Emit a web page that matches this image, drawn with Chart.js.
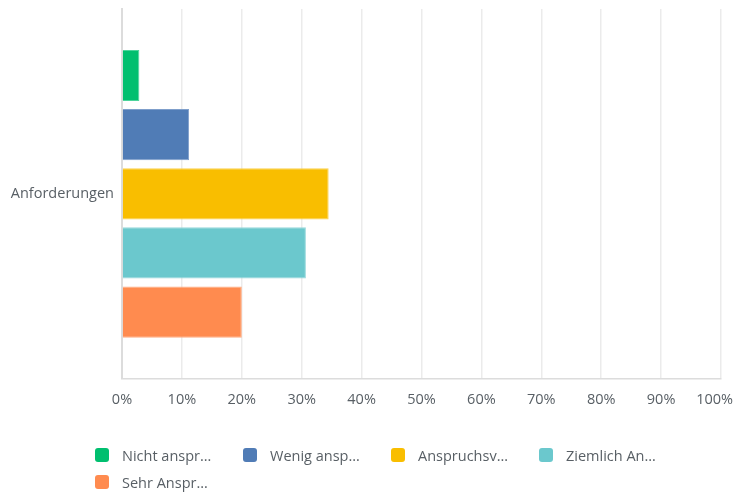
<!DOCTYPE html>
<html>
<head>
<meta charset="utf-8">
<script src="https://cdn.jsdelivr.net/npm/chart.js@4"></script>
<style>
  html, body { margin: 0; padding: 0; background: #fff; }
  #wrap { position: relative; width: 735px; height: 500px; }
  #legend {
    position: absolute; left: 95px; top: 447px; width: 620px;
    display: grid; grid-template-columns: repeat(4, 148px); row-gap: 11px;
    font-family: "Open Sans", sans-serif; font-size: 14.5px; color: #585f65;
  }
  .item { display: flex; align-items: center; height: 16px; white-space: nowrap; }
  .box { width: 14px; height: 14px; border-radius: 3px; margin-right: 13px; }
</style>
</head>
<body>
<div id="wrap">
  <canvas id="chart" width="735" height="500"></canvas>
  <div id="legend"></div>
</div>
<script>
// categories and answer options
const categories = ["Anforderungen"];
const seriesNames = ["Nicht anspr…", "Wenig ansp…", "Anspruchsv…", "Ziemlich An…", "Sehr Anspr…"];
const seriesColors = ["#00bf6f", "#507cb6", "#f9be00", "#6bc8cd", "#ff8b4f"];
const borderColors = ["#4cd49b", "#7f9fcb", "#fbd24c", "#97d8dc", "#ffac82"];

// share of answers in percent, one value per category
const nichtAnspr = [2.9];
const wenigAnsp = [11.2];
const anspruchsv = [34.5];
const ziemlichAn = [30.7];
const sehrAnspr = [20.0];
const seriesValues = [nichtAnspr, wenigAnsp, anspruchsv, ziemlichAn, sehrAnspr];

const xTicks = [0, 10, 20, 30, 40, 50, 60, 70, 80, 90, 100];

const datasets = seriesNames.map((name, i) => ({
    label: name,
    data: seriesValues[i],
    backgroundColor: seriesColors[i],
    borderColor: borderColors[i],
    borderWidth: 1,
    categoryPercentage: 0.8,
    barPercentage: 0.865
}));

// keep the last x label ("100%") inside the canvas
const lastLabelInside = {
    id: "lastLabelInside",
    beforeDraw(chart) {
        const items = chart.scales.x.getLabelItems();
        const last = items[items.length - 1];
        if (last) {
            last.options.textAlign = "right";
            last.options.translation[0] = chart.width - 2;
        }
    }
};

const ctx = document.getElementById("chart").getContext("2d");
const chart = new Chart(ctx, {
    type: "bar",
    data: { labels: categories, datasets: datasets },
    plugins: [lastLabelInside],
    options: {
        indexAxis: "y",
        responsive: false,
        animation: false,
        layout: { padding: { left: 0, right: 14, top: 9, bottom: 78 } },
        plugins: { legend: { display: false }, tooltip: { enabled: false } },
        scales: {
            x: {
                min: 0,
                max: 100,
                afterBuildTicks: (axis) => { axis.ticks = xTicks.map(v => ({ value: v })); },
                afterFit: (axis) => { axis.paddingLeft = 0; axis.paddingRight = 0; },
                grid: { color: "#ebebeb", lineWidth: 1.5, drawTicks: false },
                border: { color: "#dcdcdc", width: 1.5 },
                ticks: {
                    padding: 13,
                    color: "#585f65",
                    font: { family: "Open Sans", size: 14.5 },
                    callback: (v) => v + "%"
                }
            },
            y: {
                afterFit: (axis) => { axis.width = 122; axis.paddingTop = 0; axis.paddingBottom = 0; },
                grid: { display: false, drawTicks: false },
                border: { color: "#dcdcdc", width: 2 },
                ticks: {
                    padding: 8,
                    color: "#585f65",
                    font: { family: "Open Sans", size: 14.5 }
                }
            }
        }
    }
});

// legend in a fixed four-column grid
const legend = document.getElementById("legend");
seriesNames.forEach((name, i) => {
    legend.innerHTML += `<div class="item"><span class="box" style="background:${seriesColors[i]}"></span>${name}</div>`;
});
</script>
</body>
</html>
